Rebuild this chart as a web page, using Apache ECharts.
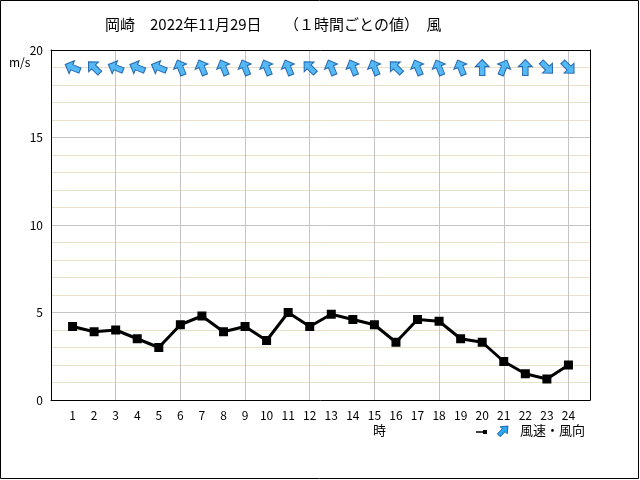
<!DOCTYPE html>
<html>
<head>
<meta charset="utf-8">
<script src="https://cdn.jsdelivr.net/npm/echarts@6/dist/echarts.min.js"></script>
<style>
  html, body { margin: 0; padding: 0; background: #fff; }
  #chart { width: 640px; height: 480px; }
</style>
</head>
<body>
<div id="chart"></div>
<script>
// 1時間ごとの風速 (m/s) と風向
const hours = [1, 2, 3, 4, 5, 6, 7, 8, 9, 10, 11, 12, 13, 14, 15, 16, 17, 18, 19, 20, 21, 22, 23, 24]
const speed = [4.2, 3.9, 4.0, 3.5, 3.0, 4.3, 4.8, 3.9, 4.2, 3.4, 5.0, 4.2, 4.9, 4.6, 4.3, 3.3, 4.6, 4.5, 3.5, 3.3, 2.2, 1.5, 1.2, 2.0]
const windDir = ['東南東', '南東', '東南東', '東南東', '東南東', '南南東', '南南東', '南南東', '南南東', '南南東',
  '南南東', '南東', '南南東', '南南東', '南南東', '南東', '南南東', '南南東', '南南東', '南',
  '南南西', '南', '北西', '北西']
const dirNames = ['北', '北北東', '北東', '東北東', '東', '東南東', '南東', '南南東',
  '南', '南南西', '南西', '西南西', '西', '西北西', '北西', '北北西']
const arrowRow = 19

const font = '"Noto Sans CJK JP", sans-serif'
const arrowPath = 'path://M0,-10 L7.5,-1.5 L3,-1.5 L3,9 L-3,9 L-3,-1.5 L-7.5,-1.5 Z'

const arrows = hours.map((h, i) => {
  const to = (dirNames.indexOf(windDir[i]) * 22.5 + 180) % 360
  return { value: [h, arrowRow], symbolRotate: -to }
})

const gridLine = { show: true, lineStyle: { color: '#c4c4c4', width: 1 } }
const frame = { show: true, onZero: false, lineStyle: { color: '#000', width: 1 } }

const chart = echarts.init(document.getElementById('chart'))
chart.setOption({
  animation: false,
  backgroundColor: '#fff',
  title: {
    text: '岡崎　2022年11月29日　　（１時間ごとの値）　風',
    left: 100,
    top: 12,
    textStyle: { fontFamily: font, fontSize: 15, fontWeight: 'normal', color: '#000' }
  },
  grid: { left: 51, right: 50, top: 50, bottom: 80 },
  xAxis: [
    {
      type: 'value', min: 0, max: 25, interval: 1, position: 'bottom',
      axisLine: frame, axisTick: { show: false }, splitLine: { show: false },
      axisLabel: {
        margin: 9, fontFamily: font, fontSize: 12, color: '#000',
        formatter: v => (v >= 1 && v <= 24 ? String(v) : '')
      }
    },
    {
      type: 'value', min: 0, max: 25, interval: 3, position: 'top',
      axisLine: frame, axisTick: { show: false }, axisLabel: { show: false },
      splitLine: gridLine
    }
  ],
  yAxis: [
    {
      type: 'value', min: 0, max: 20, interval: 5, position: 'left',
      axisLine: frame, axisTick: { show: false },
      axisLabel: { margin: 8, fontFamily: font, fontSize: 12, color: '#000' },
      splitLine: gridLine,
      minorTick: { show: false, splitNumber: 5 },
      minorSplitLine: { show: true, lineStyle: { color: '#e9e0c8', width: 1 } }
    },
    {
      type: 'value', min: 0, max: 20, interval: 5, position: 'right',
      axisLine: frame, axisTick: { show: false }, axisLabel: { show: false },
      splitLine: { show: false }
    }
  ],
  series: [
    {
      name: '風速',
      type: 'line',
      data: hours.map((h, i) => [h, speed[i]]),
      symbol: 'rect', symbolSize: 9,
      lineStyle: { color: '#000', width: 3 },
      itemStyle: { color: '#000' },
      z: 5
    },
    {
      name: '風向',
      type: 'scatter',
      data: arrows,
      symbol: arrowPath, symbolSize: [14, 16],
      itemStyle: { color: '#2aa8f2', borderColor: '#0a4f9c', borderWidth: 1 },
      z: 6
    }
  ],
  graphic: [
    { type: 'rect', shape: { x: 0.5, y: 0.5, width: 638, height: 478 }, style: { fill: 'none', stroke: '#000', lineWidth: 1 } },
    { type: 'text', x: 9, y: 56, style: { text: 'm/s', font: '12px ' + font, fill: '#000' } },
    { type: 'text', x: 373, y: 424, style: { text: '時', font: '13px ' + font, fill: '#000' } },
    { type: 'line', shape: { x1: 476, y1: 432, x2: 487, y2: 432 }, style: { stroke: '#000', lineWidth: 1.5 } },
    { type: 'rect', shape: { x: 483, y: 430, width: 4, height: 4 }, style: { fill: '#000' } },
    {
      type: 'polygon', x: 503, y: 431, rotation: -Math.PI / 4,
      shape: { points: [[0, -7], [5, -1], [2, -1], [2, 6], [-2, 6], [-2, -1], [-5, -1]] },
      style: { fill: '#2aa8f2', stroke: '#0a4f9c', lineWidth: 0.8 }
    },
    { type: 'text', x: 520, y: 424, style: { text: '風速・風向', font: '13px ' + font, fill: '#000' } }
  ]
})
</script>
</body>
</html>
